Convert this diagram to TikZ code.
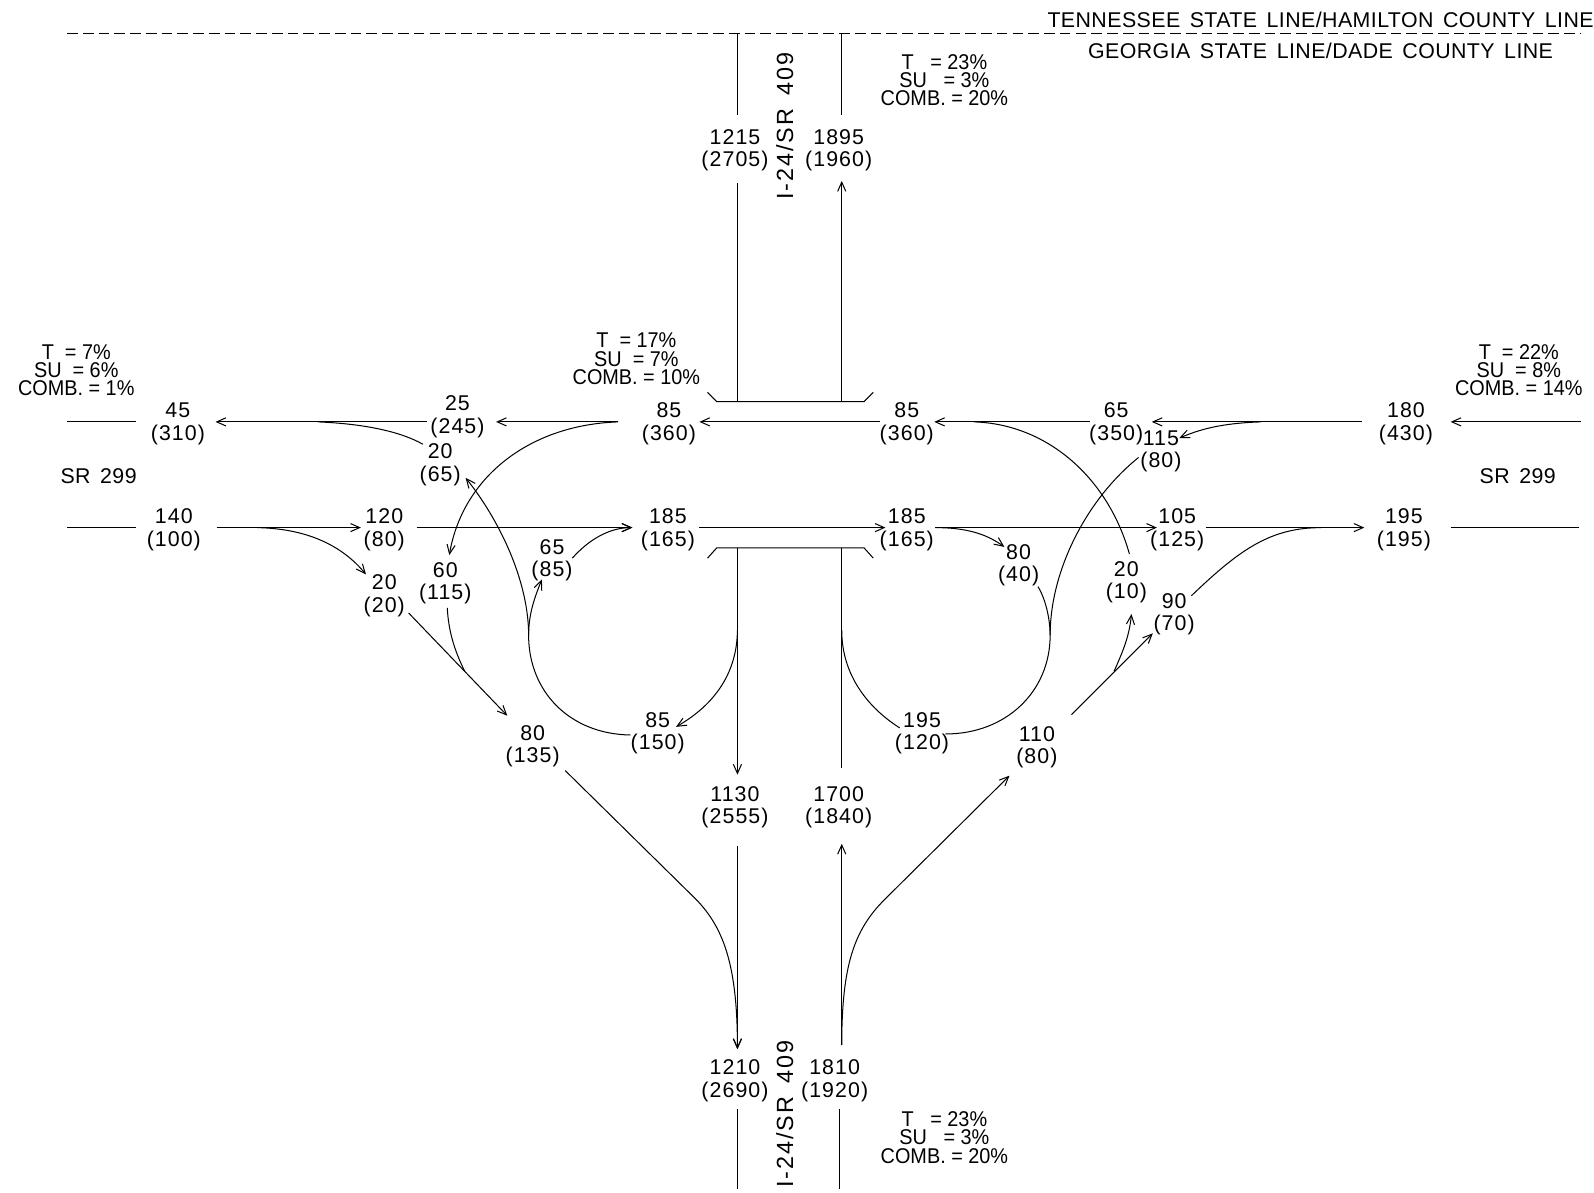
\documentclass[tikz,border=0pt]{standalone}
\usepackage{fontspec}
\setmainfont{Liberation Sans}
\newfontfamily\volfont[LetterSpace=5]{Liberation Sans}
\newfontfamily\labfont[LetterSpace=2,WordSpace=1.5]{Liberation Sans}
\newfontfamily\intfont[LetterSpace=8,WordSpace=1.6]{Liberation Sans}
\newfontfamily\pctfont[FakeStretch=0.93]{Liberation Sans}
\usetikzlibrary{arrows.meta}
\begin{document}
\begin{tikzpicture}[x=1pt,y=-1pt]
    \tikzset{vol/.style={align=center,inner sep=0pt,font=\volfont\fontsize{21}{22}\selectfont}}
    \tikzset{pct/.style={align=center,inner sep=0pt,font=\pctfont\fontsize{21}{18}\selectfont}}
    \tikzset{lab/.style={inner sep=0pt,font=\labfont\fontsize{21}{22}\selectfont}}
    \tikzset{rlab/.style={inner sep=0pt,rotate=90,font=\intfont\fontsize{23}{22}\selectfont}}
    \tikzset{flow/.style={line width=1pt,-{Straight Barb[length=9pt,width=8pt]}}}
    \tikzset{road/.style={line width=1pt}}
    \useasboundingbox (0,0) rectangle (1568,1173);

    % STATE LINE
    \coordinate(slw) at (66,33);
    \coordinate(sle) at (1555,33);
    \draw[line width=1.4pt,dash pattern=on 10.5pt off 5pt] (slw) -- (sle);
    \node(tn) at (1299,20) [lab] {TENNESSEE STATE LINE/HAMILTON COUNTY LINE};
    \node(ga) at (1299,50) [lab] {GEORGIA STATE LINE/DADE COUNTY LINE};

    % ROAD NAMES
    \node(srw) at (97,468) [lab] {SR 299};
    \node(sre) at (1493,468) [lab] {SR 299};
    \node(int) at (772,124) [rlab] {I-24/SR 409};
    \node(inb) at (772,1096) [rlab] {I-24/SR 409};

    % TRUCK PERCENTAGES
    \node(pn) at (929,79) [pct] {T\ \ \ = 23\%\\SU\ \ \ = 3\%\\COMB. = 20\%};
    \node(pc) at (626,353) [pct] {T\ \ = 17\%\\SU\ \ = 7\%\\COMB. = 10\%};
    \node(pw) at (75,364) [pct] {T\ \ = 7\%\\SU\ \ = 6\%\\COMB. = 1\%};
    \node(pe) at (1494,364) [pct] {T\ \ = 22\%\\SU\ \ = 8\%\\COMB. = 14\%};
    \node(ps) at (929,1119) [pct] {T\ \ \ = 23\%\\SU\ \ \ = 3\%\\COMB. = 20\%};

    % VOLUMES SR 299 WESTBOUND
    \node(v45) at (175,417) [vol] {45\\(310)};
    \node(v25) at (450,410) [vol] {25\\(245)};
    \node(v85a) at (658,417) [vol] {85\\(360)};
    \node(v85b) at (892,417) [vol] {85\\(360)};
    \node(v65a) at (1098,417) [vol] {65\\(350)};
    \node(v115) at (1142,444) [vol] {115\\(80)};
    \node(v180) at (1383,417) [vol] {180\\(430)};
    \node(v20a) at (433,457) [vol] {20\\(65)};

    % VOLUMES SR 299 EASTBOUND
    \node(v140) at (171,521) [vol] {140\\(100)};
    \node(v120) at (378,521) [vol] {120\\(80)};
    \node(v185a) at (657,521) [vol] {185\\(165)};
    \node(v185b) at (892,521) [vol] {185\\(165)};
    \node(v105) at (1158,521) [vol] {105\\(125)};
    \node(v195a) at (1381,521) [vol] {195\\(195)};

    % VOLUMES RAMPS
    \node(v65b) at (543,551) [vol] {65\\(85)};
    \node(v60) at (438,574) [vol] {60\\(115)};
    \node(v20b) at (378,586) [vol] {20\\(20)};
    \node(v80a) at (1002,556) [vol] {80\\(40)};
    \node(v20c) at (1108,573) [vol] {20\\(10)};
    \node(v90) at (1155,604) [vol] {90\\(70)};
    \node(v85c) at (647,721) [vol] {85\\(150)};
    \node(v195b) at (907,721) [vol] {195\\(120)};
    \node(v110) at (1020,735) [vol] {110\\(80)};
    \node(v80b) at (524,734) [vol] {80\\(135)};

    % VOLUMES I-24
    \node(v1215) at (723,148) [vol] {1215\\(2705)};
    \node(v1895) at (825,148) [vol] {1895\\(1960)};
    \node(v1130) at (723,794) [vol] {1130\\(2555)};
    \node(v1700) at (825,794) [vol] {1700\\(1840)};
    \node(v1210) at (723,1063) [vol] {1210\\(2690)};
    \node(v1810) at (821,1063) [vol] {1810\\(1920)};

    % FREE ENDS AND BRANCH POINTS
    \coordinate(ew) at (66,415);
    \coordinate(ee) at (1555,415);
    \coordinate(fw) at (66,519);
    \coordinate(fe) at (1553,519);
    \coordinate(nl) at (725.4,33);
    \coordinate(nr) at (828,33);
    \coordinate(sl) at (725.4,1170);
    \coordinate(sr) at (826,1170);
    \coordinate(btl) at (725.4,395);
    \coordinate(btr) at (828,395);
    \coordinate(bbl) at (725.4,539);
    \coordinate(bbr) at (828,539);
    \coordinate(j1) at (313,415);
    \coordinate(j2) at (520,625);
    \coordinate(j3) at (457,660);
    \coordinate(j4) at (253,519);
    \coordinate(j5) at (725.4,620);
    \coordinate(j6) at (1240,415);
    \coordinate(j7) at (1033,625);
    \coordinate(j8) at (828,620);
    \coordinate(j9) at (958,415);
    \coordinate(j10) at (1300,519);
    \coordinate(j11) at (1096,660);

    % BRIDGE
    \coordinate(bt1) at (696,386);
    \coordinate(bt2) at (705,395);
    \coordinate(bt3) at (850,395);
    \coordinate(bt4) at (859,386);
    \coordinate(bb1) at (696,549);
    \coordinate(bb2) at (705,539);
    \coordinate(bb3) at (850,539);
    \coordinate(bb4) at (859,549);
    \draw[road] (bt1) -- (bt2) -- (bt3) -- (bt4);
    \draw[road] (bb1) -- (bb2) -- (bb3) -- (bb4);

    % WESTBOUND LINE
    \draw[flow] (ee) -- ([shift={(44,-2)}]v180.center);
    \draw[flow] ([shift={(-43,-2)}]v180.center) -- ([shift={(35,-2)}]v65a.center);
    \draw[flow] ([shift={(-26,-2)}]v65a.center) -- ([shift={(27,-2)}]v85b.center);
    \draw[flow] ([shift={(-26,-2)}]v85b.center) -- ([shift={(30,-2)}]v85a.center);
    \draw[flow] ([shift={(-50,-2)}]v85a.center) -- ([shift={(38,5)}]v25.center);
    \draw[flow] ([shift={(-30,5)}]v25.center) -- ([shift={(37,-2)}]v45.center);
    \draw[road] ([shift={(-41,-2)}]v45.center) -- (ew);

    % EASTBOUND LINE
    \draw[road] (fw) -- ([shift={(-37,-2)}]v140.center);
    \draw[flow] ([shift={(42,-2)}]v140.center) -- ([shift={(-23,-2)}]v120.center);
    \draw[flow] ([shift={(32,-2)}]v120.center) -- ([shift={(-35,-2)}]v185a.center);
    \draw[flow] ([shift={(31,-2)}]v185a.center) -- ([shift={(-21,-2)}]v185b.center);
    \draw[flow] ([shift={(28,-2)}]v185b.center) -- ([shift={(-20,-2)}]v105.center);
    \draw[flow] ([shift={(28,-2)}]v105.center) -- ([shift={(-39,-2)}]v195a.center);
    \draw[road] ([shift={(46,-2)}]v195a.center) -- (fe);

    % I-24 LINES
    \draw[road] (nl) -- ([shift={(2.4,-35)}]v1215.center);
    \draw[road] ([shift={(2.4,32)}]v1215.center) -- (btl);
    \draw[road] (nr) -- ([shift={(3,-35)}]v1895.center);
    \draw[flow] (btr) -- ([shift={(3,30)}]v1895.center);
    \draw[flow] (bbl) -- ([shift={(2.4,-32)}]v1130.center);
    \draw[flow] ([shift={(2.4,38)}]v1130.center) -- ([shift={(2.4,-31)}]v1210.center);
    \draw[road] ([shift={(2.4,28)}]v1210.center) -- (sl);
    \draw[road] (bbr) -- ([shift={(3,-39)}]v1700.center);
    \draw[flow] ([shift={(7,-35)}]v1810.center) -- ([shift={(3,36)}]v1700.center);
    \draw[road] ([shift={(5,28)}]v1810.center) -- (sr);

    % WEST RAMPS
    \draw[road] (j1) .. controls (360,417) and (395,425) .. ([shift={(-17,-20)}]v20a.center);
    \draw[flow] ([shift={(-27,2)}]v85c.center) .. controls (560,722) and (520,680) .. (j2) .. controls (520,570) and (490,510) .. ([shift={(25,13)}]v20a.center);
    \draw[flow] (j2) .. controls (520,605) and (525,590) .. ([shift={(-10,19)}]v65b.center);
    \draw[flow] ([shift={(20,-2)}]v65b.center) .. controls (580,530) and (600,519) .. ([shift={(-35,-2)}]v185a.center);
    \draw[flow] ([shift={(-50,-2)}]v85a.center) .. controls (520,418) and (455,470) .. ([shift={(4,-28)}]v60.center);
    \draw[road] ([shift={(2,24)}]v60.center) .. controls (441,620) and (447,640) .. (j3);
    \draw[flow] ([shift={(24,17)}]v20b.center) -- ([shift={(-25,-30)}]v80b.center);
    \draw[flow] (j4) .. controls (300,520) and (335,535) .. ([shift={(-18,-21)}]v20b.center);
    \draw[flow] (j5) .. controls (725,660) and (705,692) .. ([shift={(18,-6)}]v85c.center);
    \draw[flow] ([shift={(32,24)}]v80b.center) -- (685,885) .. controls (712,913) and (725.4,950) .. ([shift={(2.4,-31)}]v1210.center);

    % EAST RAMPS
    \draw[flow] (j6) .. controls (1210,416) and (1185,420) .. ([shift={(18,-13)}]v115.center);
    \draw[road] ([shift={(-22,6)}]v115.center) .. controls (1070,490) and (1033,560) .. (j7) .. controls (1033,680) and (990,722) .. ([shift={(23,1)}]v195b.center);
    \draw[road] ([shift={(19,21)}]v80a.center) .. controls (1029,590) and (1033,610) .. (j7);
    \draw[road] (j8) .. controls (828,665) and (855,697) .. ([shift={(-22,-5)}]v195b.center);
    \draw[flow] ([shift={(28,-2)}]v185b.center) .. controls (950,519) and (970,525) .. ([shift={(-14,-18)}]v80a.center);
    \draw[road] ([shift={(3,-28)}]v20c.center) .. controls (1090,470) and (1030,417) .. (j9);
    \draw[road] ([shift={(17,-18)}]v90.center) .. controls (1220,540) and (1250,519) .. (j10);
    \draw[flow] ([shift={(34,-32)}]v110.center) -- ([shift={(-21,19)}]v90.center);
    \draw[flow] (j11) .. controls (1105,640) and (1111,625) .. ([shift={(5,31)}]v20c.center);
    \draw[flow] ([shift={(7,-35)}]v1810.center) .. controls (828,950) and (840,915) .. (870,885) -- ([shift={(-27,28)}]v110.center);
\end{tikzpicture}
\end{document}
